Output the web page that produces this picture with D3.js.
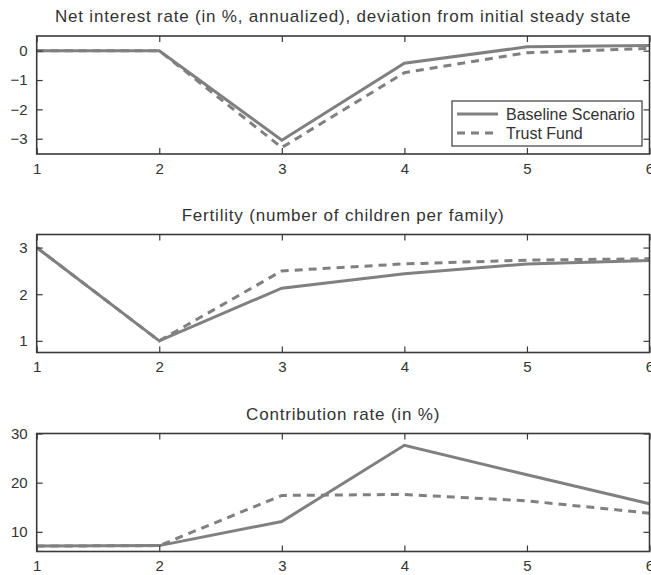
<!DOCTYPE html>
<html>
<head>
<meta charset="utf-8">
<script src="https://cdn.jsdelivr.net/npm/d3@7"></script>
<style>
  body { margin: 0; background: #fff; }
  svg { display: block; }
  text { font-family: "Liberation Sans", Arial, sans-serif; fill: #333; }
</style>
</head>
<body>
<div id="chart"></div>
<script>
// Chart values
const periods = [1, 2, 3, 4, 5, 6];
const xTicks = [1, 2, 3, 4, 5, 6];

const interestBaseline = [0, 0, -3.05, -0.43, 0.13, 0.18];
const interestTrust = [0, 0, -3.3, -0.75, -0.07, 0.08];
const interestTicks = [-3, -2, -1, 0];

const fertilityBaseline = [3, 1, 2.13, 2.44, 2.65, 2.72];
const fertilityTrust = [3, 1, 2.5, 2.65, 2.73, 2.76];
const fertilityTicks = [1, 2, 3];

const contribBaseline = [7.1, 7.2, 12.1, 27.6, 21.6, 15.7];
const contribTrust = [7.1, 7.2, 17.4, 17.6, 16.3, 13.8];
const contribTicks = [10, 20, 30];

const seriesNames = ["Baseline Scenario", "Trust Fund"];

const width = 651, height = 575;
const left = 36.7, right = 649.5;
const panelH = 118;
const lineColor = "#808080";
const frameColor = "#3a3a3a";

const svg = d3.select("#chart").append("svg")
    .attr("width", width)
    .attr("height", height);

const x = d3.scaleLinear().domain([1, 6]).range([left, right]);

const panels = [
    {title: "Net interest rate (in %, annualized), deviation from initial steady state",
     top: 36, domain: [-3.52, 0.5], ticks: interestTicks,
     base: interestBaseline, trust: interestTrust, legend: true},
    {title: "Fertility (number of children per family)",
     top: 234.5, domain: [0.75, 3.28], ticks: fertilityTicks,
     base: fertilityBaseline, trust: fertilityTrust, legend: false},
    {title: "Contribution rate (in %)",
     top: 433.5, domain: [6, 30], ticks: contribTicks,
     base: contribBaseline, trust: contribTrust, legend: false}
];

const fmt = v => v < 0 ? "\u2212" + Math.abs(v) : String(v);

panels.forEach(function(p) {
    let y = d3.scaleLinear().domain(p.domain).range([p.top + panelH, p.top]);
    let g = svg.append("g");

    // title
    g.append("text")
        .attr("x", (left + right) / 2)
        .attr("y", p.top - 14)
        .attr("text-anchor", "middle")
        .style("font-size", "17px")
        .style("letter-spacing", "0.8px")
        .text(p.title);

    // lines
    let line = d3.line()
        .x((d, i) => x(periods[i]))
        .y(d => y(d));
    g.append("path")
        .datum(p.trust)
        .attr("d", line)
        .attr("fill", "none")
        .attr("stroke", lineColor)
        .attr("stroke-width", 3)
        .attr("stroke-dasharray", "8,6");
    g.append("path")
        .datum(p.base)
        .attr("d", line)
        .attr("fill", "none")
        .attr("stroke", lineColor)
        .attr("stroke-width", 3);

    // axes with inward ticks
    let bottomAxis = d3.axisBottom(x).tickValues(xTicks).tickSize(-6).tickPadding(9).tickFormat(d3.format("d"));
    let topAxis = d3.axisTop(x).tickValues(xTicks).tickSize(-6).tickFormat("");
    let leftAxis = d3.axisLeft(y).tickValues(p.ticks).tickSize(-6).tickPadding(9).tickFormat(fmt);
    let rightAxis = d3.axisRight(y).tickValues(p.ticks).tickSize(-6).tickFormat("");

    let axes = [
        g.append("g").attr("transform", `translate(0,${p.top + panelH})`).call(bottomAxis),
        g.append("g").attr("transform", `translate(0,${p.top})`).call(topAxis),
        g.append("g").attr("transform", `translate(${left},0)`).call(leftAxis),
        g.append("g").attr("transform", `translate(${right},0)`).call(rightAxis)
    ];
    axes.forEach(function(a) {
        a.select(".domain").remove();
        a.selectAll("line").attr("stroke", frameColor).attr("stroke-width", 1.2);
        a.selectAll("text").style("font-size", "15px").attr("fill", "#333")
            .style("font-family", '"Liberation Sans", Arial, sans-serif');
    });

    // frame
    g.append("rect")
        .attr("x", left).attr("y", p.top)
        .attr("width", right - left).attr("height", panelH)
        .attr("fill", "none")
        .attr("stroke", frameColor)
        .attr("stroke-width", 1.6);

    if (p.legend) {
        let lg = g.append("g").attr("transform", "translate(452,101)");
        lg.append("rect")
            .attr("width", 190).attr("height", 45)
            .attr("fill", "#fff")
            .attr("stroke", frameColor)
            .attr("stroke-width", 1.2);
        seriesNames.forEach(function(name, i) {
            let ly = 13 + i * 19;
            lg.append("line")
                .attr("x1", 5).attr("x2", 46)
                .attr("y1", ly).attr("y2", ly)
                .attr("stroke", lineColor)
                .attr("stroke-width", 3)
                .attr("stroke-dasharray", i === 1 ? "8,6" : null);
            lg.append("text")
                .attr("x", 54).attr("y", ly)
                .attr("dy", "0.35em")
                .style("font-size", "16px")
                .text(name);
        });
    }
});
</script>
</body>
</html>
